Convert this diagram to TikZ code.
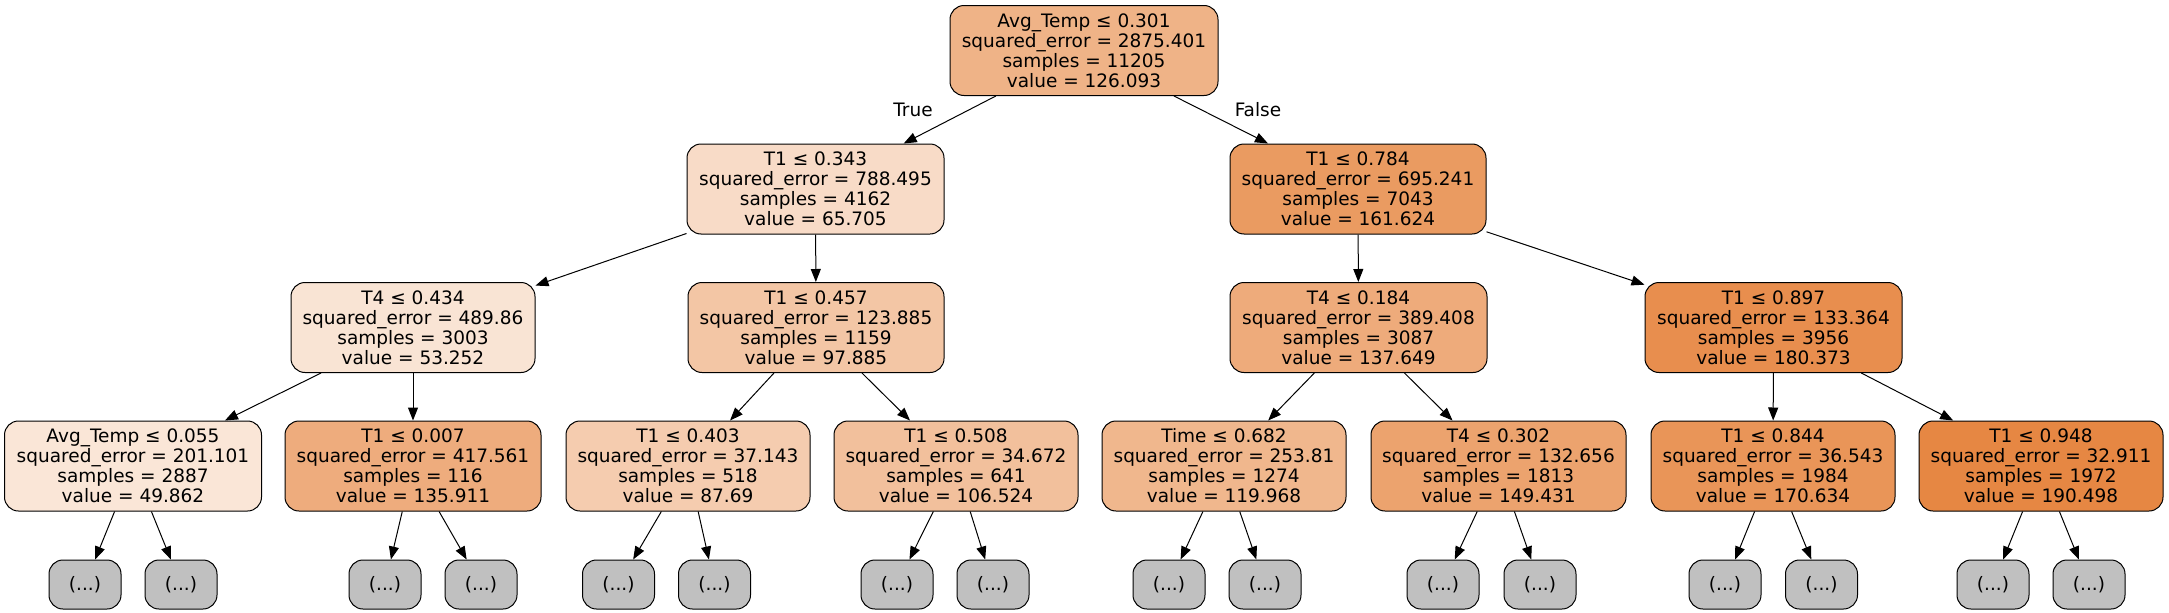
\documentclass[tikz,border=0pt]{standalone}
\usepackage{fontspec}
\setmainfont{DejaVu Sans}
\usetikzlibrary{arrows.meta}
\definecolor{c0}{RGB}{239,179,135}
\definecolor{c1}{RGB}{248,219,199}
\definecolor{c2}{RGB}{234,155,97}
\definecolor{c3}{RGB}{249,228,212}
\definecolor{c4}{RGB}{243,198,165}
\definecolor{c5}{RGB}{238,171,123}
\definecolor{c6}{RGB}{232,142,78}
\definecolor{c7}{RGB}{250,230,215}
\definecolor{c8}{RGB}{238,172,125}
\definecolor{c9}{RGB}{245,204,175}
\definecolor{c10}{RGB}{242,192,156}
\definecolor{c11}{RGB}{240,183,141}
\definecolor{c12}{RGB}{236,163,110}
\definecolor{c13}{RGB}{233,149,88}
\definecolor{c14}{RGB}{230,135,67}
\definecolor{leafgray}{RGB}{192,192,192}
\begin{document}
\begin{tikzpicture}[x=1pt,y=-1pt,
  tnode/.style={draw=black, line width=1pt, rounded corners=14pt, minimum height=90pt,
    align=center, inner sep=0pt, font=\fontsize{18.5}{20}\selectfont},
  leafbox/.style={draw=black, line width=1pt, fill=leafgray, rounded corners=14pt,
    minimum width=72pt, minimum height=49pt, inner sep=0pt, font=\fontsize{18.5}{20}\selectfont},
  lbl/.style={inner sep=0pt, font=\fontsize{18.5}{20}\selectfont},
  edge/.style={draw=black, line width=1pt, -{Triangle[length=13pt,width=10pt]}}]
\useasboundingbox (0,0) rectangle (2169,613);
% root
\node[tnode, fill=c0, minimum width=268pt] (n0) at (1084,50.5) {Avg\_Temp ≤ 0.301\\squared\_error = 2875.401\\samples = 11205\\value = 126.093};
% level 1
\node[tnode, fill=c1, minimum width=257pt] (n1) at (815.5,189) {T1 ≤ 0.343\\squared\_error = 788.495\\samples = 4162\\value = 65.705};
\node[tnode, fill=c2, minimum width=256pt] (n2) at (1358,189) {T1 ≤ 0.784\\squared\_error = 695.241\\samples = 7043\\value = 161.624};
% level 2
\node[tnode, fill=c3, minimum width=244pt] (n3) at (413,327.5) {T4 ≤ 0.434\\squared\_error = 489.86\\samples = 3003\\value = 53.252};
\node[tnode, fill=c4, minimum width=256pt] (n4) at (816,327.5) {T1 ≤ 0.457\\squared\_error = 123.885\\samples = 1159\\value = 97.885};
\node[tnode, fill=c5, minimum width=257pt] (n5) at (1358.5,327.5) {T4 ≤ 0.184\\squared\_error = 389.408\\samples = 3087\\value = 137.649};
\node[tnode, fill=c6, minimum width=257pt] (n6) at (1773.5,327.5) {T1 ≤ 0.897\\squared\_error = 133.364\\samples = 3956\\value = 180.373};
% level 3
\node[tnode, fill=c7, minimum width=257pt] (n7) at (133,466) {Avg\_Temp ≤ 0.055\\squared\_error = 201.101\\samples = 2887\\value = 49.862};
\node[tnode, fill=c8, minimum width=256pt] (n8) at (413,466) {T1 ≤ 0.007\\squared\_error = 417.561\\samples = 116\\value = 135.911};
\node[tnode, fill=c9, minimum width=244pt] (n9) at (688,466) {T1 ≤ 0.403\\squared\_error = 37.143\\samples = 518\\value = 87.69};
\node[tnode, fill=c10, minimum width=244pt] (n10) at (956,466) {T1 ≤ 0.508\\squared\_error = 34.672\\samples = 641\\value = 106.524};
\node[tnode, fill=c11, minimum width=244pt] (n11) at (1224,466) {Time ≤ 0.682\\squared\_error = 253.81\\samples = 1274\\value = 119.968};
\node[tnode, fill=c12, minimum width=255pt] (n12) at (1498.5,466) {T4 ≤ 0.302\\squared\_error = 132.656\\samples = 1813\\value = 149.431};
\node[tnode, fill=c13, minimum width=244pt] (n13) at (1773,466) {T1 ≤ 0.844\\squared\_error = 36.543\\samples = 1984\\value = 170.634};
\node[tnode, fill=c14, minimum width=244pt] (n14) at (2041,466) {T1 ≤ 0.948\\squared\_error = 32.911\\samples = 1972\\value = 190.498};
% leaves
\node[leafbox] (l1) at (85,584.5) {(...)};
\node[leafbox] (l2) at (181,584.5) {(...)};
\node[leafbox] (l3) at (385,584.5) {(...)};
\node[leafbox] (l4) at (481,584.5) {(...)};
\node[leafbox] (l5) at (618.5,584.5) {(...)};
\node[leafbox] (l6) at (714.5,584.5) {(...)};
\node[leafbox] (l7) at (897,584.5) {(...)};
\node[leafbox] (l8) at (993,584.5) {(...)};
\node[leafbox] (l9) at (1169,584.5) {(...)};
\node[leafbox] (l10) at (1265,584.5) {(...)};
\node[leafbox] (l11) at (1443,584.5) {(...)};
\node[leafbox] (l12) at (1540,584.5) {(...)};
\node[leafbox] (l13) at (1725,584.5) {(...)};
\node[leafbox] (l14) at (1821.5,584.5) {(...)};
\node[leafbox] (l15) at (1993,584.5) {(...)};
\node[leafbox] (l16) at (2089,584.5) {(...)};
% labels
\node[lbl] (tl) at (913,110) {True};
\node[lbl] (fl) at (1258,110) {False};
% edges
\draw[edge] (n0) -- (n1);
\draw[edge] (n0) -- (n2);
\draw[edge] (n1) -- (n3);
\draw[edge] (n1) -- (n4);
\draw[edge] (n2) -- (n5);
\draw[edge] (n2) -- (n6);
\draw[edge] (n3) -- (n7);
\draw[edge] (n3) -- (n8);
\draw[edge] (n4) -- (n9);
\draw[edge] (n4) -- (n10);
\draw[edge] (n5) -- (n11);
\draw[edge] (n5) -- (n12);
\draw[edge] (n6) -- (n13);
\draw[edge] (n6) -- (n14);
\draw[edge] (n7) -- (l1);
\draw[edge] (n7) -- (l2);
\draw[edge] (n8) -- (l3);
\draw[edge] (n8) -- (l4);
\draw[edge] (n9) -- (l5);
\draw[edge] (n9) -- (l6);
\draw[edge] (n10) -- (l7);
\draw[edge] (n10) -- (l8);
\draw[edge] (n11) -- (l9);
\draw[edge] (n11) -- (l10);
\draw[edge] (n12) -- (l11);
\draw[edge] (n12) -- (l12);
\draw[edge] (n13) -- (l13);
\draw[edge] (n13) -- (l14);
\draw[edge] (n14) -- (l15);
\draw[edge] (n14) -- (l16);
\end{tikzpicture}
\end{document}
